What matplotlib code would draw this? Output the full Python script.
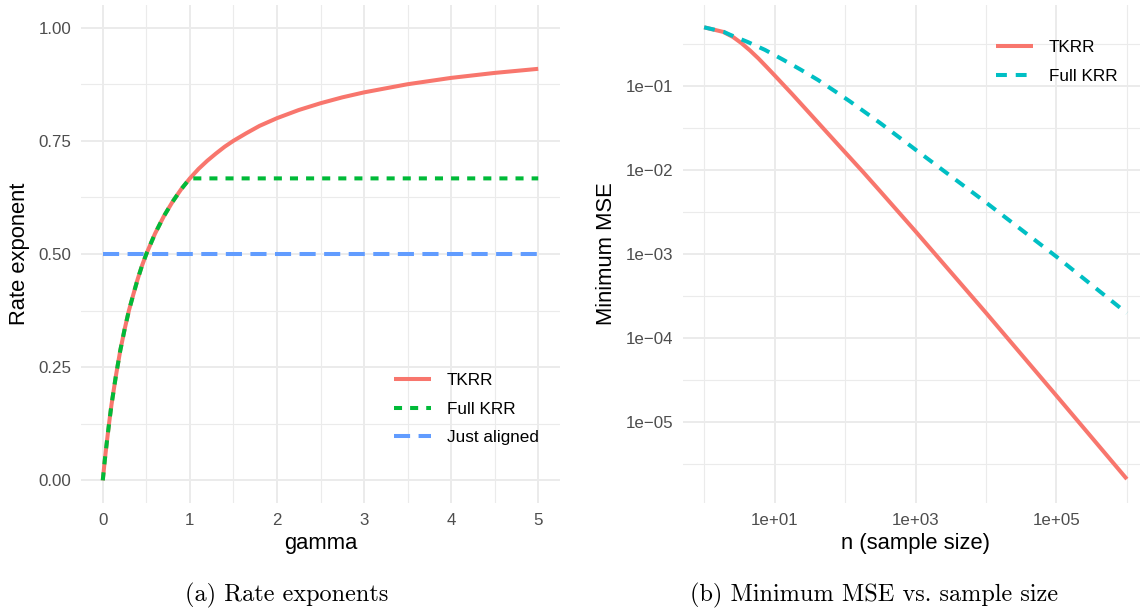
"""Rate exponents and minimum MSE for TKRR vs full KRR, two panels side by side."""
import numpy as np
import matplotlib
matplotlib.use("Agg")
import matplotlib.pyplot as plt
from matplotlib.ticker import FixedLocator, NullFormatter

## DATA
## =============================
gamma = [0, 0.025, 0.05, 0.075, 0.1, 0.15, 0.2, 0.25, 0.3, 0.35, 0.4, 0.45, 0.5,
         0.6, 0.7, 0.8, 0.9, 1.0, 1.1, 1.2, 1.3, 1.4, 1.5, 1.65, 1.8, 2.0, 2.25, 2.5, 2.75,
         3.0, 3.5, 4.0, 4.5, 5.0]
rate_tkrr = [0, 0.048, 0.09, 0.13, 0.167, 0.23, 0.286, 0.333, 0.375, 0.41, 0.444, 0.474, 0.5,
             0.545, 0.583, 0.615, 0.643, 0.667, 0.688, 0.706, 0.722, 0.737, 0.75, 0.767, 0.783,
             0.8, 0.818, 0.833, 0.846, 0.857, 0.875, 0.889, 0.9, 0.909]
rate_full = [0, 0.048, 0.09, 0.13, 0.167, 0.23, 0.286, 0.333, 0.375, 0.41, 0.444, 0.474, 0.5,
             0.545, 0.583, 0.615, 0.643, 0.667, 0.667, 0.667, 0.667, 0.667, 0.667, 0.667, 0.667,
             0.667, 0.667, 0.667, 0.667, 0.667, 0.667, 0.667, 0.667, 0.667]
rate_aligned = [0.5] * len(gamma)

n_tkrr = [1, 1.86, 2.57, 3.4, 4.47, 5.9, 7.67, 10, 17.8, 31.6, 56.2, 100, 178, 316, 1000,
          1e4, 1e5, 1e6]
mse_tkrr = [0.495, 0.437, 0.38, 0.32, 0.263, 0.211, 0.168, 0.133, 0.0794, 0.0468, 0.0275,
            0.0162, 0.00955, 0.00556, 0.00186, 2.0e-4, 2.07e-5, 2.11e-6]
n_full = [1, 1.9, 2.3, 4.2, 7.3, 13.2, 23.6, 41.4, 74, 117, 316, 1000, 1e4, 1e5, 1e6]
mse_full = [0.495, 0.437, 0.406, 0.33, 0.267, 0.204, 0.155, 0.117, 0.0847, 0.0653, 0.036,
            0.0174, 0.0041, 0.00093, 0.000198]

left_yticks = [0, 0.25, 0.5, 0.75, 1.0]
left_ylabels = ["0.00", "0.25", "0.50", "0.75", "1.00"]
right_xticks = [1e1, 1e3, 1e5]
right_xlabels = ["1e+01", "1e+03", "1e+05"]
right_yticks = [1e-1, 1e-2, 1e-3, 1e-4, 1e-5]
right_ylabels = ["1e\u221201", "1e\u221202", "1e\u221203", "1e\u221204", "1e\u221205"]

## STYLE
## =====
plt.rcParams['font.family'] = ['Liberation Sans', 'DejaVu Sans']
RED, GREEN, BLUE, CYAN = '#F8766D', '#00BA38', '#619CFF', '#00BFC4'
GRID = '#EBEBEB'
LW = 2.9
TICK_SIZE = 12.2
TITLE_SIZE = 15.8
W, H = 1140, 608


def style_axes(ax):
    """ggplot theme_minimal look: no spines, no ticks, light grid."""
    for s in ax.spines.values():
        s.set_visible(False)
    ax.set_axisbelow(True)
    ax.grid(which='major', color=GRID, lw=1.4)
    ax.grid(which='minor', color=GRID, lw=0.8)
    ax.tick_params(which='both', length=0, labelsize=TICK_SIZE, labelcolor='#4D4D4D', pad=7)


fig = plt.figure(figsize=(W / 100, H / 100), dpi=100)

# Left panel: rate exponents ------------------------------------------------ #
ax1 = fig.add_axes([81 / W, 105 / H, 479 / W, 498 / H])
style_axes(ax1)
ax1.plot(gamma, rate_tkrr, color=RED, lw=LW, label='TKRR', solid_capstyle='butt')
ax1.plot(gamma, rate_full, color=GREEN, lw=LW, dashes=(2, 2), dash_capstyle='butt', label='Full KRR')
ax1.plot(gamma, rate_aligned, color=BLUE, lw=LW, dashes=(4, 2.1), dash_capstyle='butt', label='Just aligned')
ax1.set_xlim(-0.25, 5.25)
ax1.set_ylim(-0.05, 1.05)
ax1.set_xticks(range(6))
ax1.xaxis.set_minor_locator(FixedLocator([0.5, 1.5, 2.5, 3.5, 4.5]))
ax1.set_yticks(left_yticks)
ax1.set_yticklabels(left_ylabels)
ax1.yaxis.set_minor_locator(FixedLocator([0.125, 0.375, 0.625, 0.875]))
ax1.set_xlabel('gamma', fontsize=TITLE_SIZE, va='center')
ax1.xaxis.set_label_coords(0.5, -(543 - 503) / 498)
ax1.set_ylabel('Rate exponent', fontsize=TITLE_SIZE, va='center')
ax1.yaxis.set_label_coords(-(81 - 20) / 479, 0.5)
ax1.legend(loc='center left', bbox_to_anchor=(394 / W, 1 - 409 / H), bbox_transform=fig.transFigure,
           frameon=False, fontsize=12.3, handlelength=2.15, handletextpad=0.95,
           labelspacing=0.8, borderpad=0, borderaxespad=0)

# Right panel: minimum MSE vs n --------------------------------------------- #
ax2 = fig.add_axes([683 / W, 105 / H, 465 / W, 498 / H])
style_axes(ax2)
ax2.plot(n_tkrr, mse_tkrr, color=RED, lw=LW, label='TKRR', solid_capstyle='butt')
ax2.plot(n_full, mse_full, color=CYAN, lw=LW, dashes=(2.7, 2.2), dash_capstyle='butt', label='Full KRR')
ax2.set_xscale('log')
ax2.set_yscale('log')
ax2.set_xlim(10 ** -0.3, 10 ** 6.3)
ax2.set_ylim(10 ** -5.96, 10 ** -0.04)
ax2.xaxis.set_major_locator(FixedLocator(right_xticks))
ax2.set_xticklabels(right_xlabels)
ax2.xaxis.set_minor_locator(FixedLocator([1, 1e2, 1e4, 1e6]))
ax2.xaxis.set_minor_formatter(NullFormatter())
ax2.yaxis.set_major_locator(FixedLocator(right_yticks))
ax2.set_yticklabels(right_ylabels)
ax2.yaxis.set_minor_locator(FixedLocator([10 ** (-k - 0.5) for k in range(6)]))
ax2.yaxis.set_minor_formatter(NullFormatter())
ax2.set_xlabel('n (sample size)', fontsize=TITLE_SIZE, va='center')
ax2.xaxis.set_label_coords(0.5, -(543 - 503) / 498)
ax2.set_ylabel('Minimum MSE', fontsize=TITLE_SIZE, va='center')
ax2.yaxis.set_label_coords(-(683 - 607) / 465, 0.5)
ax2.legend(loc='center left', bbox_to_anchor=(996 / W, 1 - 62 / H), bbox_transform=fig.transFigure,
           frameon=False, fontsize=12.3, handlelength=2.15, handletextpad=0.95,
           labelspacing=0.8, borderpad=0, borderaxespad=0)

# Subfigure captions (LaTeX look)
fig.text(287 / W, 1 - 595 / H, '(a) Rate exponents', family='cmr10', fontsize=17.5,
         ha='center', va='center')
fig.text(874 / W, 1 - 595 / H, '(b) Minimum MSE vs. sample size', family='cmr10', fontsize=17.5,
         ha='center', va='center')

fig.savefig('out.png', dpi=100)
